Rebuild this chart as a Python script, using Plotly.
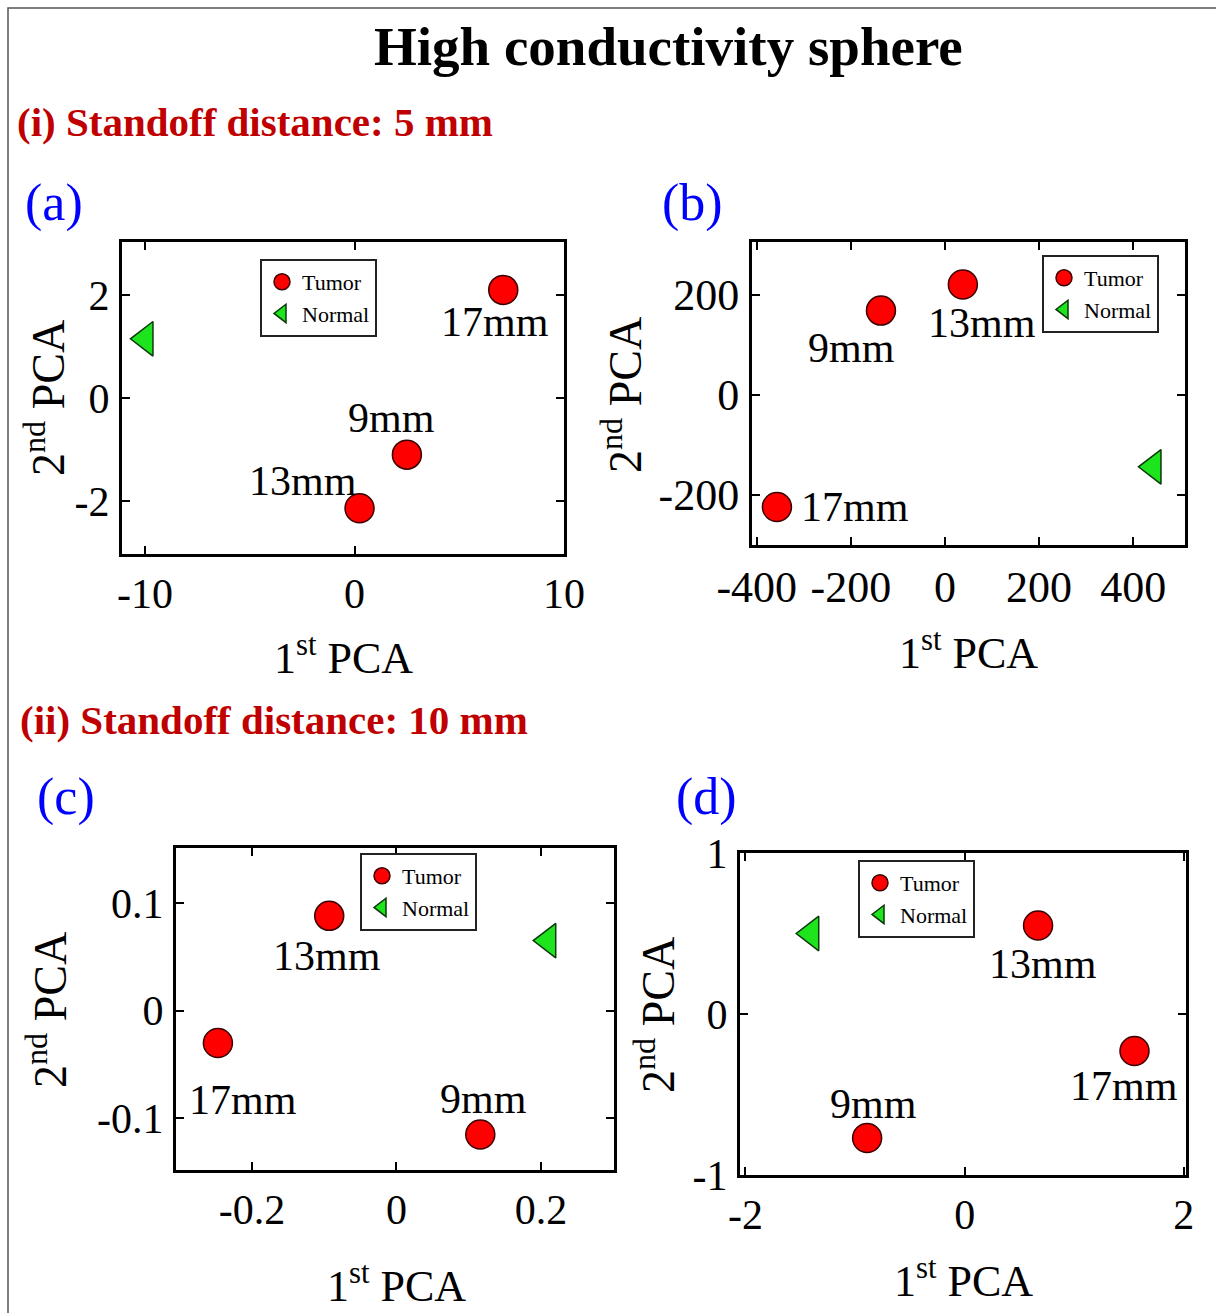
import plotly.graph_objects as go

W, H = 1216, 1313
SERIF = "Liberation Serif"

# ---- data: PCA scores (1st, 2nd component) ----
tumor_labels = ["9mm", "13mm", "17mm"]

a_tumor_x = [2.5, 0.24, 7.1]
a_tumor_y = [-1.1, -2.14, 2.1]
a_normal_x = [-9.98]
a_normal_y = [1.15]

b_tumor_x = [-136, 38, -357]
b_tumor_y = [168, 220, -224]
b_normal_x = [443]
b_normal_y = [-144]

c_tumor_x = [0.116, -0.093, -0.247]
c_tumor_y = [-0.115, 0.088, -0.030]
c_normal_x = [0.21]
c_normal_y = [0.065]

d_tumor_x = [-0.89, 0.67, 1.55]
d_tumor_y = [-0.77, 0.55, -0.23]
d_normal_x = [-1.40]
d_normal_y = [0.50]

# ---- tick positions and their printed labels ----
a_xticks, a_xtext = [-10, 0, 10], ["-10", "0", "10"]
a_yticks, a_ytext = [-2, 0, 2], ["-2", "0", "2"]
b_xticks, b_xtext = [-400, -200, 0, 200, 400], ["-400", "-200", "0", "200", "400"]
b_yticks, b_ytext = [-200, 0, 200], ["-200", "0", "200"]
c_xticks, c_xtext = [-0.2, 0, 0.2], ["-0.2", "0", "0.2"]
c_yticks, c_ytext = [-0.1, 0, 0.1], ["-0.1", "0", "0.1"]
d_xticks, d_xtext = [-2, 0, 2], ["-2", "0", "2"]
d_yticks, d_ytext = [-1, 0, 1], ["-1", "0", "1"]


def px_x(p):
    return p / W


def px_y(p):
    return 1 - p / H


panels = [
    dict(tx=a_tumor_x, ty=a_tumor_y, nx=a_normal_x, ny=a_normal_y,
         xt=a_xticks, xtt=a_xtext, yt=a_yticks, ytt=a_ytext,
         xr=[-11.1, 10], yr=[-3.03, 3.03],
         box=(122, 564, 242, 554),
         off=[(-15, 37), (-57, 27), (-8, -32)], tf=42, leg=(260, 259)),
    dict(tx=b_tumor_x, ty=b_tumor_y, nx=b_normal_x, ny=b_normal_y,
         xt=b_xticks, xtt=b_xtext, yt=b_yticks, ytt=b_ytext,
         xr=[-410, 510], yr=[-300, 305],
         box=(752, 1185, 242, 545),
         off=[(-29, -37), (19, -38), (78, 0)], tf=44, leg=(1042, 255)),
    dict(tx=c_tumor_x, ty=c_tumor_y, nx=c_normal_x, ny=c_normal_y,
         xt=c_xticks, xtt=c_xtext, yt=c_yticks, ytt=c_ytext,
         xr=[-0.305, 0.301], yr=[-0.148, 0.151],
         box=(176, 614, 848, 1170),
         off=[(3, 35), (-2, -40), (25, -57)], tf=42, leg=(360, 853)),
    dict(tx=d_tumor_x, ty=d_tumor_y, nx=d_normal_x, ny=d_normal_y,
         xt=d_xticks, xtt=d_xtext, yt=d_yticks, ytt=d_ytext,
         xr=[-2.05, 2.02], yr=[-1, 1],
         box=(740, 1186, 853, 1175),
         off=[(6, 34), (5, -39), (-11, -35)], tf=42, leg=(858, 860)),
]

fig = go.Figure()
annotations = []
layout_axes = {}

for i, p in enumerate(panels, start=1):
    xa = "x" if i == 1 else f"x{i}"
    ya = "y" if i == 1 else f"y{i}"
    leg = "legend" if i == 1 else f"legend{i}"
    fig.add_trace(go.Scatter(
        x=p["tx"], y=p["ty"], mode="markers", name="Tumor",
        xaxis=xa, yaxis=ya, legend=leg,
        marker=dict(symbol="circle", size=29, color="#ff0000",
                    line=dict(color="#3a0000", width=1.5)),
    ))
    fig.add_trace(go.Scatter(
        x=p["nx"], y=p["ny"], mode="markers", name="Normal",
        xaxis=xa, yaxis=ya, legend=leg,
        marker=dict(symbol="triangle-left", size=30, color="#1ee41e",
                    line=dict(color="#0a3a0a", width=1.5)),
    ))
    for lbl, x, y, (dx, dy) in zip(tumor_labels, p["tx"], p["ty"], p["off"]):
        annotations.append(dict(
            x=x, y=y, xref=xa, yref=ya, text=lbl, showarrow=False,
            xanchor="center", yanchor="middle", xshift=dx, yshift=dy,
            font=dict(family=SERIF, size=42, color="black"),
        ))

    l, r, t, b = p["box"]
    common = dict(
        showline=True, linecolor="black", linewidth=3, mirror="ticks",
        ticks="inside", ticklen=8, tickwidth=2, tickcolor="black",
        showgrid=False, zeroline=False, tickangle=0, automargin=False,
        tickfont=dict(family=SERIF, size=p["tf"], color="black"),
    )
    xkey = "xaxis" if i == 1 else f"xaxis{i}"
    ykey = "yaxis" if i == 1 else f"yaxis{i}"
    layout_axes[xkey] = dict(
        domain=[px_x(l), px_x(r)], range=p["xr"], anchor=ya,
        tickmode="array", tickvals=p["xt"], ticktext=p["xtt"],
        ticklabelstandoff=1, **common)
    layout_axes[ykey] = dict(
        domain=[px_y(b), px_y(t)], range=p["yr"], anchor=xa,
        tickmode="array", tickvals=p["yt"], ticktext=p["ytt"],
        ticklabelstandoff=1, **common)
    lx, ly = p["leg"]
    layout_axes[leg] = dict(
        x=px_x(lx), y=px_y(ly), xanchor="left", yanchor="top",
        bgcolor="white", bordercolor="#222222", borderwidth=2,
        font=dict(family=SERIF, size=22, color="black"),
        itemsizing="trace", tracegroupgap=0, itemwidth=30,
    )

# headings
annotations.append(dict(
    x=px_x(668), y=px_y(47), xref="paper", yref="paper", showarrow=False,
    text="<b>High conductivity sphere</b>", xanchor="center", yanchor="middle",
    font=dict(family=SERIF, size=55, color="black")))
annotations.append(dict(
    x=px_x(15), y=px_y(122), xref="paper", yref="paper", showarrow=False,
    text="<b>(i) Standoff distance: 5 mm</b>", xanchor="left", yanchor="middle",
    font=dict(family=SERIF, size=41, color="#c00000")))
annotations.append(dict(
    x=px_x(18), y=px_y(720), xref="paper", yref="paper", showarrow=False,
    text="<b>(ii) Standoff distance: 10 mm</b>", xanchor="left", yanchor="middle",
    font=dict(family=SERIF, size=41, color="#c00000")))

# panel letters
for txt, cx, cy in [("(a)", 54, 203), ("(b)", 692, 203), ("(c)", 66, 797), ("(d)", 706, 797)]:
    annotations.append(dict(
        x=px_x(cx), y=px_y(cy), xref="paper", yref="paper", showarrow=False,
        text=txt, xanchor="center", yanchor="middle",
        font=dict(family=SERIF, size=52, color="#0000ff")))

# axis titles
for cx, cy in [(343, 655), (968, 650), (396, 1283), (963, 1278)]:
    annotations.append(dict(
        x=px_x(cx), y=px_y(cy), xref="paper", yref="paper", showarrow=False,
        text="1<sup>st</sup> PCA", xanchor="center", yanchor="middle",
        font=dict(family=SERIF, size=44, color="black")))
for cx, cy in [(45, 398), (622, 395), (47, 1010), (655, 1015)]:
    annotations.append(dict(
        x=px_x(cx), y=px_y(cy), xref="paper", yref="paper", showarrow=False,
        text="2<sup>nd</sup> PCA", textangle=-90, xanchor="center", yanchor="middle",
        font=dict(family=SERIF, size=46, color="black")))

fig.update_layout(
    width=W, height=H,
    margin=dict(l=0, r=0, t=0, b=0, pad=0, autoexpand=False),
    paper_bgcolor="white", plot_bgcolor="white",
    annotations=annotations,
    shapes=[dict(type="rect", xref="paper", yref="paper",
                 x0=px_x(8), x1=1.01, y0=-0.01, y1=px_y(8),
                 line=dict(color="#555555", width=1.5))],
    **layout_axes,
)

fig.write_html("out.html")
